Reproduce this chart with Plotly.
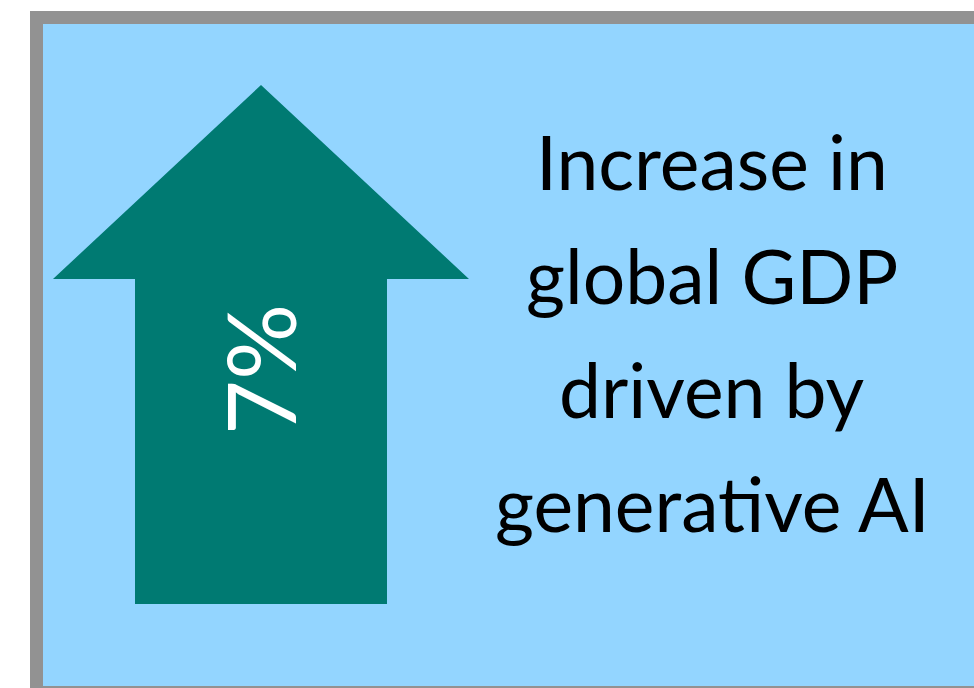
import plotly.graph_objects as go

# Headline figure and caption lines
value_label = "7%"
caption_lines = ["Increase in", "global GDP", "driven by", "generative AI"]

W, H = 974, 688
FRAME_GRAY = "#929292"
PANEL_BLUE = "#93D5FF"
ARROW_TEAL = "#007A72"
FONT = "Lato, 'Open Sans', sans-serif"
CAPTION_SIZE = 75

# Arrow outline (pixel space, y grows downward)
arrow_x = [261, 469, 387, 387, 135, 135, 53, 261]
arrow_y = [85, 279, 279, 604, 604, 279, 279, 85]

fig = go.Figure()
fig.add_trace(go.Scatter(
    x=arrow_x, y=arrow_y, mode="lines", fill="toself",
    fillcolor=ARROW_TEAL, line=dict(color=ARROW_TEAL, width=0),
    hoverinfo="skip", showlegend=False,
))

shapes = [
    dict(type="rect", xref="x", yref="y", x0=30, y0=11, x1=1000, y1=720,
         fillcolor=FRAME_GRAY, line=dict(width=0), layer="below"),
    dict(type="rect", xref="x", yref="y", x0=43, y0=24, x1=1000, y1=686,
         fillcolor=PANEL_BLUE, line=dict(width=0), layer="below"),
]

annotations = [
    dict(text=value_label, x=259, y=370, xref="x", yref="y", showarrow=False,
         textangle=-90, font=dict(family=FONT, size=95, color="white"),
         xanchor="center", yanchor="middle"),
]
line_y = [161, 275, 389, 503]
for txt, yy in zip(caption_lines, line_y):
    annotations.append(dict(
        text=txt, x=712, y=yy, xref="x", yref="y", showarrow=False,
        font=dict(family=FONT, size=CAPTION_SIZE, color="black"),
        xanchor="center", yanchor="middle",
    ))

fig.update_layout(
    width=W, height=H, margin=dict(l=0, r=0, t=0, b=0),
    paper_bgcolor="white", plot_bgcolor="white",
    xaxis=dict(range=[0, W], visible=False, fixedrange=True),
    yaxis=dict(range=[H, 0], visible=False, fixedrange=True),
    shapes=shapes, annotations=annotations,
)
fig.write_html("out.html")
